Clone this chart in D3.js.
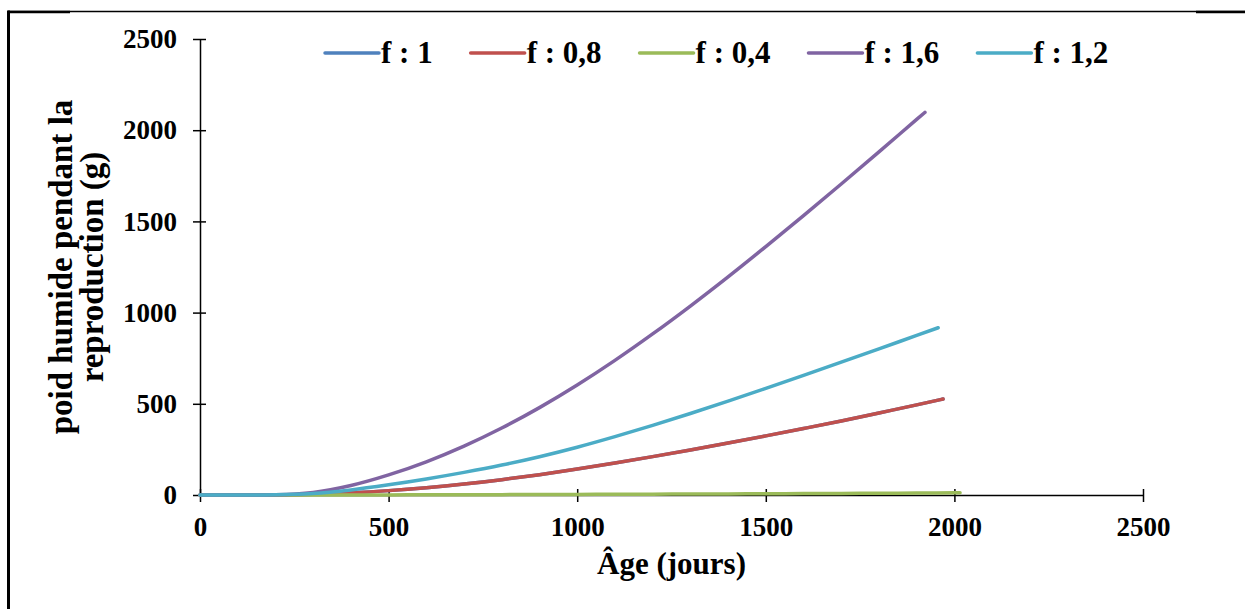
<!DOCTYPE html>
<html>
<head>
<meta charset="utf-8">
<script src="https://cdn.jsdelivr.net/npm/d3@7"></script>
<style>
  html, body { margin: 0; padding: 0; background: #fff; }
  svg { display: block; }
  text { font-family: "Liberation Serif", "Times New Roman", serif; font-weight: bold; fill: #000; }
</style>
</head>
<body>
<svg id="chart" width="1245" height="609"></svg>
<script>
// ---- data ----
const seriesNames = ["f : 1", "f : 0,8", "f : 0,4", "f : 1,6", "f : 1,2"];
const seriesColors = ["#4F81BD", "#C0504D", "#9BBB59", "#8064A2", "#4BACC6"];

const ages_f1  = [0,100,200,300,400,500,600,700,800,900,1000,1100,1200,1300,1400,1500,1600,1700,1800,1900,1970];
const poids_f1 = [0,0,0.5,4,12,24,40,60,84,111.5,142.5,175.5,210.5,247,285,324,364.5,406,450,494,526];

const ages_f08  = [0,100,200,300,400,500,600,700,800,900,1000,1100,1200,1300,1400,1500,1600,1700,1800,1900,1970];
const poids_f08 = [0,0,0.5,4,12,24,40,60,84,111.5,142.5,175.5,210.5,247,285,324,364.5,406,450,494,526];

const ages_f04  = [0,100,200,300,400,500,600,700,800,900,1000,1100,1200,1300,1400,1500,1600,1700,1800,1900,2000,2015];
const poids_f04 = [0,0,0,0.1,0.3,0.6,1,1.5,2,2.6,3.2,3.9,4.6,5.3,6.1,6.9,7.8,8.7,9.7,10.7,11.8,12];

const ages_f16  = [0,100,200,300,400,500,600,700,800,900,1000,1100,1200,1300,1400,1500,1600,1700,1800,1900,1922];
const poids_f16 = [0,0,2,14,52,110,182,268,367,479,603,738,883,1036,1196,1362,1532,1705,1881,2059,2098];

const ages_f12  = [0,100,200,300,400,500,600,700,800,900,1000,1100,1200,1300,1400,1500,1600,1700,1800,1900,1957];
const poids_f12 = [0,0,1,8,28,56,88,124,164,210,262,320,382,447,515,585,656,728,801,875,917];

const xTicks = [0, 500, 1000, 1500, 2000, 2500];
const yTicks = [0, 500, 1000, 1500, 2000, 2500];
const xTitle = "Âge (jours)";
const yTitleLines = ["poid humide pendant la", "reproduction (g)"];

const seriesAges = [ages_f1, ages_f08, ages_f04, ages_f16, ages_f12];
const seriesPoids = [poids_f1, poids_f08, poids_f04, poids_f16, poids_f12];

// ---- layout ----
const svg = d3.select("#chart");
const plot = { left: 200, right: 1143, top: 39, bottom: 495 };

const x = d3.scaleLinear().domain([0, 2500]).range([plot.left, plot.right]);
const y = d3.scaleLinear().domain([0, 2500]).range([plot.bottom, plot.top]);

// page borders
svg.append("line").attr("x1", 8).attr("x2", 1245).attr("y1", 11.5).attr("y2", 11.5)
  .attr("stroke", "#000").attr("stroke-width", 1.5);
svg.append("line").attr("x1", 8).attr("x2", 70).attr("y1", 12).attr("y2", 12)
  .attr("stroke", "#000").attr("stroke-width", 2.5);
svg.append("line").attr("x1", 1196).attr("x2", 1245).attr("y1", 12).attr("y2", 12)
  .attr("stroke", "#000").attr("stroke-width", 2.5);
svg.append("line").attr("x1", 8.5).attr("x2", 8.5).attr("y1", 10.5).attr("y2", 609)
  .attr("stroke", "#000").attr("stroke-width", 3);

// axes
const fmt = d3.format("d");
const xAxis = d3.axisBottom(x).tickValues(xTicks).tickFormat(fmt).tickSizeInner(6).tickSizeOuter(0).tickPadding(16);
const yAxis = d3.axisLeft(y).tickValues(yTicks).tickFormat(fmt).tickSizeInner(6).tickSizeOuter(0).tickPadding(17);

const gx = svg.append("g").attr("transform", `translate(0,${plot.bottom})`).call(xAxis);
const gy = svg.append("g").attr("transform", `translate(${plot.left},0)`).call(yAxis);

[gx, gy].forEach(g => {
  g.select(".domain").attr("stroke", "#000").attr("stroke-width", 1.5);
  g.selectAll(".tick line").attr("stroke", "#000").attr("stroke-width", 1.5);
  g.selectAll(".tick text").style("font-family", "'Liberation Serif', serif")
    .style("font-weight", "bold").style("font-size", "27px").attr("fill", "#000");
});
// crossing ticks
gx.selectAll(".tick line").attr("y1", -6).attr("y2", 7);
gy.selectAll(".tick line").attr("x1", 6).attr("x2", -7);
gx.selectAll(".tick text").attr("dy", "0.71em");

// series
const line = d3.line().x(d => x(d[0])).y(d => y(d[1])).curve(d3.curveMonotoneX);
seriesNames.forEach((name, i) => {
  const pts = seriesAges[i].map((a, k) => [a, seriesPoids[i][k]]);
  svg.append("path").datum(pts)
    .attr("d", line)
    .attr("fill", "none")
    .attr("stroke", seriesColors[i])
    .attr("stroke-width", 3.5)
    .attr("stroke-linecap", "round")
    .attr("stroke-linejoin", "round");
});

// axis titles
svg.append("text").attr("x", (plot.left + plot.right) / 2).attr("y", 574)
  .attr("text-anchor", "middle").style("font-size", "31px").text(xTitle);

const yt = svg.append("text")
  .attr("transform", `translate(72,${(plot.top + plot.bottom) / 2}) rotate(-90)`)
  .attr("text-anchor", "middle").style("font-size", "33px");
yTitleLines.forEach((t, i) => {
  yt.append("tspan").attr("x", 0).attr("y", i * 31).text(t);
});

// legend
const legend = svg.append("g");
let lx = 325;
const ly = 53;
seriesNames.forEach((name, i) => {
  legend.append("line").attr("x1", lx).attr("x2", lx + 54).attr("y1", ly).attr("y2", ly)
    .attr("stroke", seriesColors[i]).attr("stroke-width", 3.5).attr("stroke-linecap", "round");
  const t = legend.append("text").attr("x", lx + 56).attr("y", ly + 10)
    .style("font-size", "31px").text(name);
  const w = t.node().getComputedTextLength();
  lx = lx + 56 + w + 38;
});
</script>
</body>
</html>
